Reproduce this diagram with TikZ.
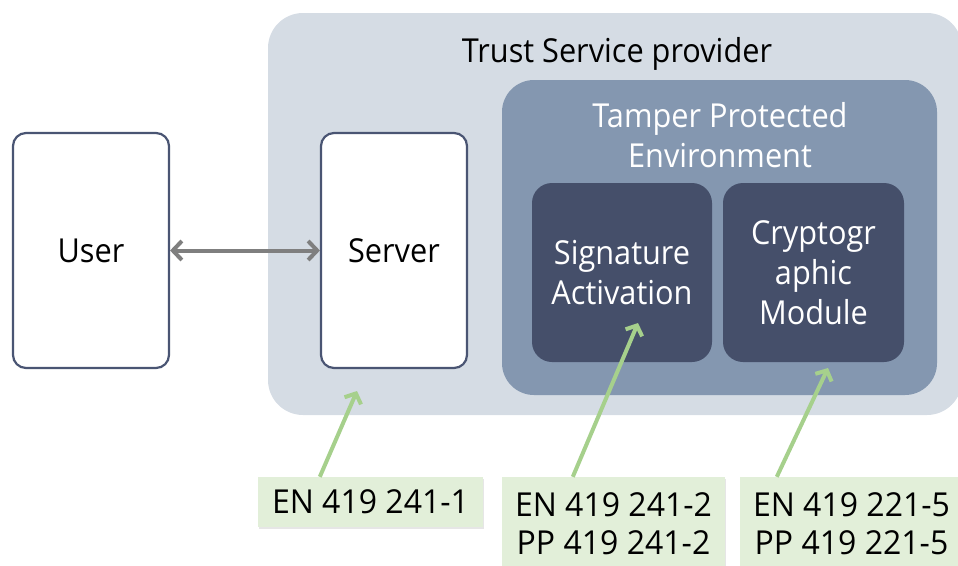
\documentclass[tikz,border=0pt]{standalone}
\usepackage{fontspec}
\setmainfont[FakeStretch=0.93]{Open Sans}
\newfontfamily\labelfont[FakeStretch=0.97]{Open Sans}
\usetikzlibrary{arrows.meta,shadows}
\definecolor{tspfill}{HTML}{D5DCE4}
\definecolor{tpefill}{HTML}{8497B0}
\definecolor{darkfill}{HTML}{454F6A}
\definecolor{boxline}{HTML}{4A5573}
\definecolor{arrowgray}{HTML}{7F7F7F}
\definecolor{greenarrow}{HTML}{A6D08C}
\definecolor{labelfill}{HTML}{E2EFD9}
\begin{document}
\begin{tikzpicture}[x=1pt,y=-1pt,
  bigtext/.style={font=\fontsize{33}{40}\selectfont},
  region/.style={rounded corners=35pt, inner sep=0pt},
  actor/.style={draw=boxline, line width=2.2pt, fill=white, rounded corners=13pt,
    minimum width=156pt, minimum height=235pt, inner sep=0pt, bigtext},
  module/.style={fill=darkfill, rounded corners=20pt, text=white, align=center,
    minimum width=180pt, minimum height=179pt, inner sep=0pt, bigtext},
  stdlabel/.style={fill=labelfill, align=center, inner sep=0pt,
    font=\labelfont\fontsize{33}{38}\selectfont,
    drop shadow={opacity=0.2, shadow xshift=0.5pt, shadow yshift=-2pt}},
  grayarrow/.style={draw=arrowgray, line width=4pt,
    {Straight Barb[length=9pt,width=19pt]}-{Straight Barb[length=9pt,width=19pt]}},
  greenconn/.style={draw=greenarrow, line width=4pt,
    -{Straight Barb[length=8pt,width=18pt]}}
]
\useasboundingbox (0,0) rectangle (958,565);
\begin{scope}
\clip (0,0) rectangle (958,565);
\node[region, fill=tspfill, minimum width=694pt, minimum height=402pt] (tsp) at (615,214) {};
\node[anchor=base, bigtext] (tsptitle) at (617,62) {Trust Service provider};
\node[region, rounded corners=32pt, fill=tpefill, minimum width=435pt, minimum height=315pt] (tpe) at (719.5,237.5) {};
\node[bigtext, text=white, align=center] (tpetitle) at (720,135) {Tamper Protected\\Environment};
\node[actor] (user) at (91,250.5) {User};
\node[actor, minimum width=146pt] (server) at (394,250.5) {Server};
\node[module] (sig) at (622,272.5) {Signature\\Activation};
\node[module, minimum width=181pt] (crypto) at (813.5,272.5) {Cryptogr\\aphic\\Module};
\node[stdlabel, minimum width=225pt, minimum height=50pt] (l1) at (370.5,502) {EN 419 241-1};
\node[stdlabel, minimum width=223pt, minimum height=93pt] (l2) at (613.5,523.5) {EN 419 241-2\\PP 419 241-2};
\node[stdlabel, minimum width=223pt, minimum height=93pt] (l3) at (851.5,523.5) {EN 419 221-5\\PP 419 221-5};
\coordinate (t1) at (357,391);
\coordinate (t2) at (638,323);
\coordinate (t3) at (828,368);
\draw[grayarrow] (user.east) -- (server.west);
\draw[greenconn] ([xshift=62pt]l1.north west) -- (t1);
\draw[greenconn] ([xshift=71pt]l2.north west) -- (t2);
\draw[greenconn] ([xshift=37pt]l3.north west) -- (t3);
\end{scope}
\end{tikzpicture}
\end{document}
